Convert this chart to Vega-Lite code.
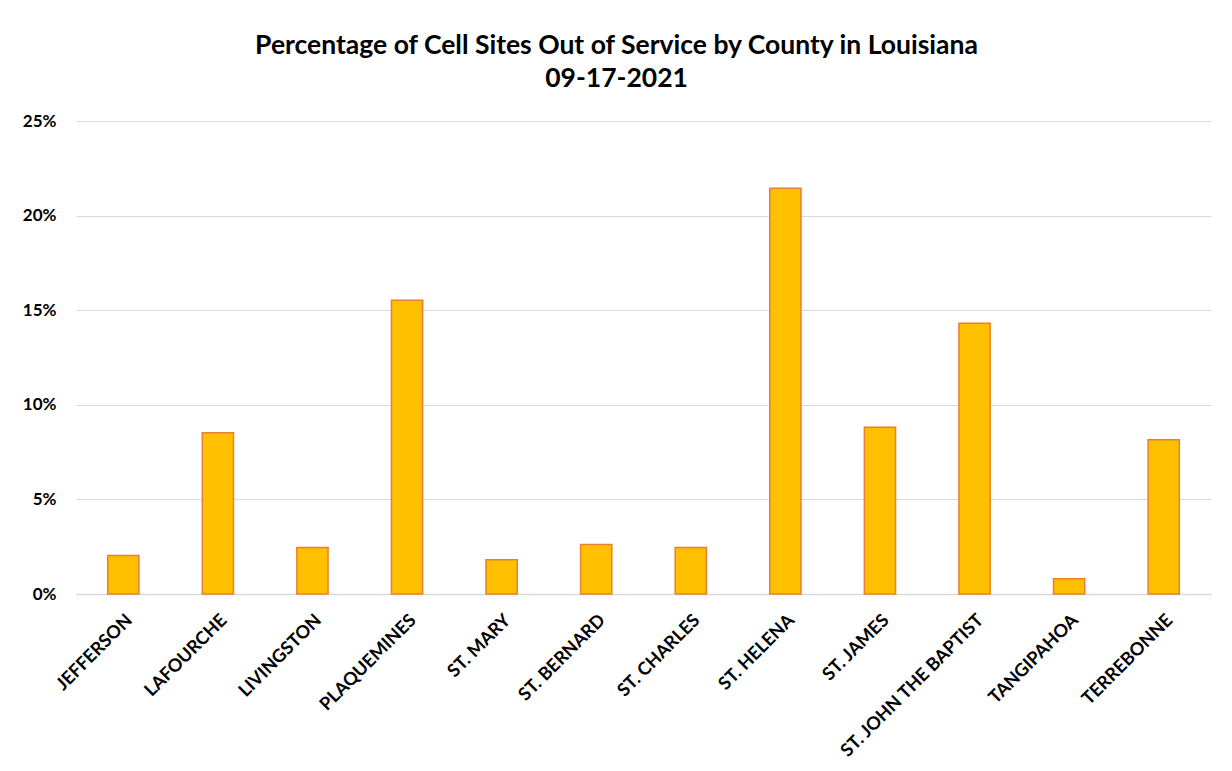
{
  "$schema": "https://vega.github.io/schema/vega-lite/v6.json",
  "width": 1135,
  "height": 473,
  "autosize": {"type": "none"},
  "padding": {"left": 76, "top": 121, "right": 21, "bottom": 177},
  "background": "white",
  "title": {
    "text": ["Percentage of Cell Sites Out of Service by County in Louisiana", "09-17-2021"],
    "font": "Lato",
    "fontSize": 26.5,
    "fontWeight": "bold",
    "color": "#000000",
    "lineHeight": 33,
    "anchor": "middle",
    "offset": 20,
    "dx": -27
  },
  "data": {
    "values": [
      {"county": "JEFFERSON", "pct": 0.0203},
      {"county": "LAFOURCHE", "pct": 0.0852},
      {"county": "LIVINGSTON", "pct": 0.0246},
      {"county": "PLAQUEMINES", "pct": 0.1553},
      {"county": "ST. MARY", "pct": 0.0181},
      {"county": "ST. BERNARD", "pct": 0.0262},
      {"county": "ST. CHARLES", "pct": 0.0246},
      {"county": "ST. HELENA", "pct": 0.2145},
      {"county": "ST. JAMES", "pct": 0.0882},
      {"county": "ST. JOHN THE BAPTIST", "pct": 0.1431},
      {"county": "TANGIPAHOA", "pct": 0.0080},
      {"county": "TERREBONNE", "pct": 0.0815}
    ]
  },
  "mark": {"type": "bar", "fill": "#FFC000", "stroke": "#ED7D31", "strokeWidth": 1.5},
  "encoding": {
    "x": {
      "field": "county",
      "type": "nominal",
      "sort": null,
      "scale": {"paddingInner": 0.67, "paddingOuter": 0.335},
      "axis": {
        "title": null,
        "labelAngle": -45,
        "ticks": false,
        "domainColor": "#D9D9D9",
        "domainWidth": 1.5,
        "labelFont": "Lato",
        "labelFontSize": 18,
        "labelFontWeight": "bold",
        "labelColor": "#000000",
        "labelPadding": 17,
        "labelLimit": 400
      }
    },
    "y": {
      "field": "pct",
      "type": "quantitative",
      "scale": {"domain": [0, 0.25]},
      "axis": {
        "title": null,
        "format": ".0%",
        "values": [0, 0.05, 0.1, 0.15, 0.2, 0.25],
        "ticks": false,
        "domain": false,
        "gridColor": "#D9D9D9",
        "gridWidth": 1.2,
        "labelFont": "Lato",
        "labelFontSize": 17,
        "labelFontWeight": "bold",
        "labelColor": "#000000",
        "labelPadding": 20
      }
    }
  },
  "config": {"view": {"stroke": null}}
}
